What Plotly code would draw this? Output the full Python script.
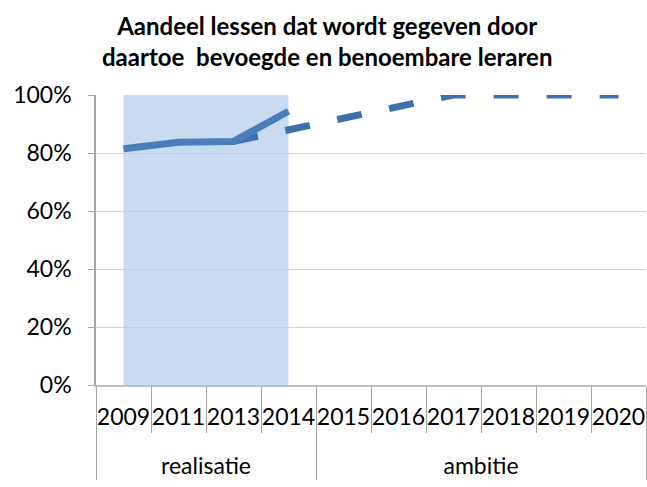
import plotly.graph_objects as go

years = ["2009", "2011", "2013", "2014", "2015", "2016", "2017", "2018", "2019", "2020"]
groups = ["<br>realisatie"] * 4 + ["<br>ambitie"] * 6

realisatie_years = years[:4]
realisatie_values = [0.815, 0.837, 0.840, 0.944]

ambitie_years = years[2:]
ambitie_values = [0.840, 0.880, 0.917, 0.954, 1.0, 1.0, 1.0, 1.0]

shade_years = years[:4]
shade_values = [1.0, 1.0, 1.0, 1.0]

title_text = "<b>Aandeel lessen dat wordt gegeven door<br>daartoe  bevoegde en benoembare leraren</b>"

def mc(yrs):
    idx = [years.index(y) for y in yrs]
    return [[groups[i] for i in idx], yrs]

fig = go.Figure()
fig.add_trace(go.Scatter(x=[groups, years], y=[None] * len(years), mode="lines",
                         showlegend=False, hoverinfo="skip"))
fig.add_trace(go.Scatter(x=mc(shade_years), y=shade_values, mode="lines",
                         line=dict(width=0), fill="tozeroy",
                         fillcolor="rgba(178,203,235,0.7)", showlegend=False,
                         hoverinfo="skip"))
fig.add_trace(go.Scatter(x=mc(ambitie_years), y=ambitie_values, mode="lines",
                         line=dict(color="#3f70ad", width=7, dash="25px,28px"),
                         showlegend=False))
fig.add_trace(go.Scatter(x=mc(realisatie_years), y=realisatie_values, mode="lines",
                         line=dict(color="#4a7ebb", width=7), showlegend=False))

fig.update_layout(
    width=647, height=487,
    margin=dict(l=96, r=1, t=95, b=102, autoexpand=False),
    paper_bgcolor="white", plot_bgcolor="white",
    font=dict(family="Lato", color="#000000", size=21),
    annotations=[dict(text=title_text, xref="paper", yref="paper", x=0.42, y=1 + 86 / 290,
                      xanchor="center", yanchor="top", showarrow=False,
                      font=dict(family="Lato", size=24, color="#000000"))],
)
fig.update_yaxes(range=[0, 1], tickformat=".0%", dtick=0.2, showgrid=True,
                 gridcolor="#d4d4d4", gridwidth=1.3, showline=True, linecolor="#a6a6a6",
                 linewidth=1.5, ticks="outside", ticklen=6, tickcolor="#a6a6a6",
                 zeroline=False, ticklabelstandoff=12, automargin=False,
                 tickfont=dict(size=23))
fig.update_xaxes(type="multicategory", range=[-0.5, 9.5], showline=True,
                 linecolor="#bfbfbf", linewidth=1.5, automargin=False,
                 ticks="outside", ticklen=46, tickcolor="#a6a6a6", tickwidth=1.3,
                 tickangle=0, ticklabelstandoff=11,
                 showdividers=True, dividercolor="#a6a6a6", dividerwidth=1.3,
                 showgrid=False, tickfont=dict(size=23))

fig.write_html("out.html", config={"displayModeBar": False},
               post_script="document.body.style.margin='0';document.body.style.overflow='hidden';")
